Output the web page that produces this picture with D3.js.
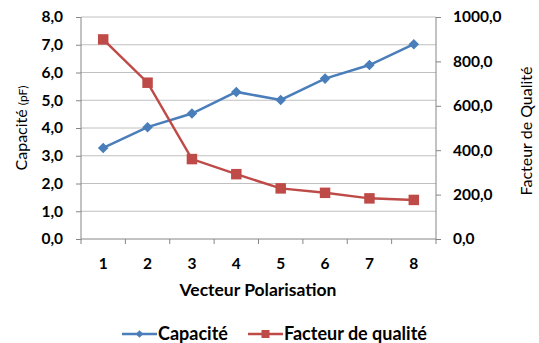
<!DOCTYPE html>
<html>
<head>
<meta charset="utf-8">
<script src="https://cdn.jsdelivr.net/npm/d3@7"></script>
<style>
  html, body { margin: 0; padding: 0; background: #fff; }
  svg { display: block; }
  text { font-family: Lato, "Open Sans", "Liberation Sans", sans-serif; fill: #000; }
</style>
</head>
<body>
<svg id="chart" width="539" height="343"></svg>
<script>
// Vecteurs de polarisation (catégories)
const categories = ["1", "2", "3", "4", "5", "6", "7", "8"];
// Capacité en pF
const capacite = [3.28, 4.03, 4.52, 5.30, 5.01, 5.78, 6.27, 7.02];
// Facteur de qualité
const facteur = [899, 704, 360, 292, 228, 208, 183, 176];
// Graduations des axes
const leftTicks = [0, 1, 2, 3, 4, 5, 6, 7, 8];
const rightTicks = [0, 200, 400, 600, 800, 1000];

const svg = d3.select("#chart");
const plotLeft = 81, plotRight = 436, plotTop = 17, plotBottom = 239;

const x = d3.scaleBand().domain(categories).range([plotLeft, plotRight]);
const yL = d3.scaleLinear().domain([0, 8]).range([plotBottom, plotTop]);
const yR = d3.scaleLinear().domain([0, 1000]).range([plotBottom, plotTop]);
const fmt = v => d3.format(".1f")(v).replace(".", ",");

// grille horizontale
svg.append("g").selectAll("line").data(leftTicks.slice(1)).join("line")
  .attr("x1", plotLeft).attr("x2", plotRight)
  .attr("y1", d => yL(d)).attr("y2", d => yL(d))
  .attr("stroke", "#c0c0c0").attr("stroke-width", 1);

// axe gauche
const gL = svg.append("g").attr("transform", `translate(${plotLeft},0)`)
  .call(d3.axisLeft(yL).tickValues(leftTicks).tickFormat(fmt).tickSize(5).tickPadding(13));
// axe droit
const gR = svg.append("g").attr("transform", `translate(${plotRight},0)`)
  .call(d3.axisRight(yR).tickValues(rightTicks).tickFormat(fmt).tickSize(5).tickPadding(12));
// axe des abscisses
const gX = svg.append("g").attr("transform", `translate(0,${plotBottom})`)
  .call(d3.axisBottom(x).tickSize(0).tickPadding(19));
gX.selectAll(".tick line").remove();
gX.append("g").selectAll("line").data(d3.range(categories.length + 1)).join("line")
  .attr("x1", i => plotLeft + i * x.step()).attr("x2", i => plotLeft + i * x.step())
  .attr("y1", 0).attr("y2", 5).attr("stroke", "#868686");

[gL, gR, gX].forEach(g => {
  g.select(".domain").attr("stroke", "#868686").attr("stroke-width", 1);
  g.selectAll(".tick line").attr("stroke", "#868686");
  g.selectAll(".tick text").attr("font-size", 15.5).attr("font-weight", "bold")
    .attr("font-family", "Lato, 'Open Sans', sans-serif").attr("fill", "#000");
});
gL.select(".domain").attr("d", `M0,${plotTop}V${plotBottom}`);
gR.select(".domain").attr("d", `M0,${plotTop}V${plotBottom}`);
gX.select(".domain").attr("d", `M${plotLeft},0H${plotRight}`);

const cx = d => x(d) + x.bandwidth() / 2;

// série Capacité
svg.append("path").datum(capacite)
  .attr("fill", "none").attr("stroke", "#4a7ebb").attr("stroke-width", 2.5)
  .attr("d", d3.line().x((d, i) => cx(categories[i])).y(d => yL(d)));
svg.append("g").selectAll("path").data(capacite).join("path")
  .attr("d", d3.symbol(d3.symbolSquare, 56))
  .attr("transform", (d, i) => `translate(${cx(categories[i])},${yL(d)}) rotate(45)`)
  .attr("fill", "#4a7ebb");

// série Facteur de qualité
svg.append("path").datum(facteur)
  .attr("fill", "none").attr("stroke", "#be4b48").attr("stroke-width", 2.5)
  .attr("d", d3.line().x((d, i) => cx(categories[i])).y(d => yR(d)));
svg.append("g").selectAll("path").data(facteur).join("path")
  .attr("d", d3.symbol(d3.symbolSquare, 110))
  .attr("transform", (d, i) => `translate(${cx(categories[i])},${yR(d)})`)
  .attr("fill", "#be4b48");

// titres des axes
const tl = svg.append("text").attr("transform", "translate(27,128) rotate(-90)")
  .attr("text-anchor", "middle").attr("font-size", 16);
tl.append("tspan").text("Capacité ");
tl.append("tspan").attr("font-size", 12).text("(pF)");

svg.append("text").attr("transform", "translate(532,131) rotate(-90)")
  .attr("text-anchor", "middle").attr("font-size", 16).text("Facteur de Qualité");

svg.append("text").attr("x", 258).attr("y", 296).attr("text-anchor", "middle")
  .attr("font-size", 17.5).attr("font-weight", "bold").text("Vecteur Polarisation");

// légende
const leg = svg.append("g");
const items = [
  { name: "Capacité", color: "#4a7ebb", x1: 122, sym: "diamond" },
  { name: "Facteur de qualité", color: "#be4b48", x1: 248, sym: "square" }
];
const ly = 334;
items.forEach(it => {
  leg.append("line").attr("x1", it.x1).attr("x2", it.x1 + 35)
    .attr("y1", ly).attr("y2", ly).attr("stroke", it.color).attr("stroke-width", 2.5);
  leg.append("path")
    .attr("d", it.sym === "diamond" ? d3.symbol(d3.symbolSquare, 30)() : d3.symbol(d3.symbolSquare, 64)())
    .attr("transform", `translate(${it.x1 + 17.5},${ly})` + (it.sym === "diamond" ? " rotate(45)" : ""))
    .attr("fill", it.color);
  leg.append("text").attr("x", it.x1 + 36).attr("y", ly + 6)
    .attr("font-size", 18).attr("font-weight", "bold").text(it.name);
});
</script>
</body>
</html>
